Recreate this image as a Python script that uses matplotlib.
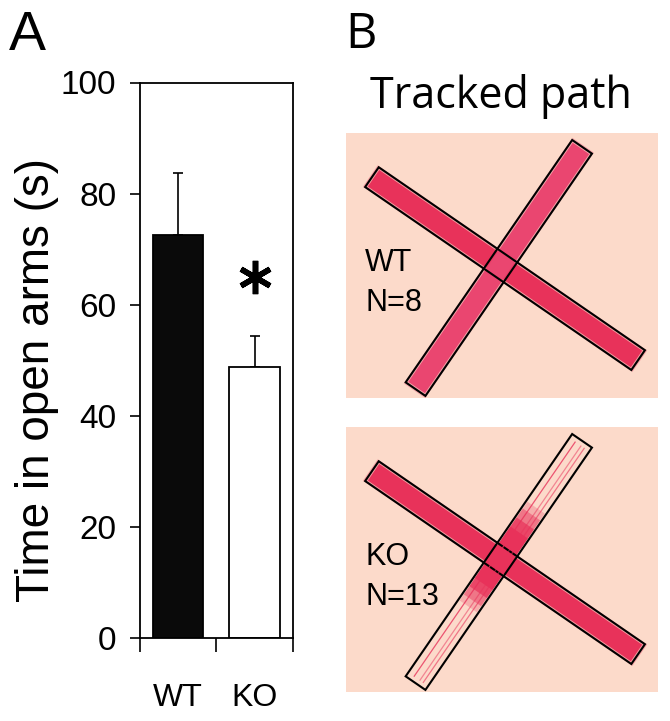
import numpy as np
import matplotlib.pyplot as plt
from matplotlib.patches import Polygon

# panel A data
groups = ["WT", "KO"]
means = [72.6, 48.9]
sem = [11.1, 5.5]
n_mice = [8, 13]
star_y = 65

# panel B: how much of each arm (from centre) the tracked path covers
# order: NW, SE, NE, SW
arm_cover = {"WT": [1.0, 1.0, 1.0, 1.0],
             "KO": [1.0, 1.0, 0.38, 0.33]}

W, H = 670, 721
fig = plt.figure(figsize=(W / 100, H / 100), dpi=100)
plt.rcParams['font.family'] = ['Liberation Sans', 'DejaVu Sans']


def fx(x):
    return x / W


def fy(y):
    return 1 - y / H


# ---------------- panel A ----------------
ax = fig.add_axes([fx(140), fy(638.3), fx(152.7), (638.3 - 82.5) / H])
x = np.arange(len(groups))
ax.bar(x, means, width=0.66, color=["#0a0a0a", "white"],
       edgecolor="black", linewidth=1.3, zorder=2)
ax.errorbar(x, means, yerr=[[0, 0], sem], fmt="none", ecolor="black",
            elinewidth=1.2, capsize=3.5, capthick=1.2, zorder=1)
ax.plot([1], [star_y], marker=(6, 2, 0), markersize=24, mew=4,
        color="black", linestyle="none")

ax.set_xlim(-0.5, 1.5)
ax.set_ylim(0, 100)
ax.set_yticks([0, 20, 40, 60, 80, 100])
ax.tick_params(axis="y", direction="out", length=7, width=1.2,
               labelsize=24, pad=10)
ax.set_xticks([-0.5, 0.5, 1.5])
ax.set_xticklabels([])
ax.tick_params(axis="x", which="major", direction="out", length=10, width=1.2)
ax.set_xticks(x, minor=True)
ax.set_xticklabels(groups, minor=True)
ax.tick_params(axis="x", which="minor", length=0, labelsize=23, pad=32)
for s in ax.spines.values():
    s.set_linewidth(1.3)

fig.text(fx(37), fy(380), "Time in open arms (s)", rotation=90,
         ha="center", va="center", fontsize=33)
fig.text(fx(9), fy(50), "A", fontsize=40, ha="left", va="baseline")

# ---------------- panel B ----------------
fig.text(fx(345), fy(48), "B", fontsize=35, family=["Open Sans"],
         ha="left", va="baseline")
fig.text(fx(370), fy(108), "Tracked path", fontsize=31,
         family=["Open Sans"], ha="left", va="baseline")

peach = "#FCDACA"
pink = "#E8325A"
pink2 = "#EA4670"

theta = np.deg2rad(34.5)
u1 = np.array([np.cos(theta), np.sin(theta)])      # towards SE
u2 = np.array([np.sin(theta), -np.cos(theta)])     # towards NE
arm_w = 24
len_nw, len_se, len_ne, len_sw = 156, 167, 144, 150
centre = np.array([154.5, 132.5])


def arm(u, s0, s1, w):
    nrm = np.array([-u[1], u[0]])
    return np.array([centre + s0 * u + w / 2 * nrm,
                     centre + s1 * u + w / 2 * nrm,
                     centre + s1 * u - w / 2 * nrm,
                     centre + s0 * u - w / 2 * nrm])


def fill_arm(axb, u, l0, l1, c0, c1, col):
    if c0 == 1.0 and c1 == 1.0:
        axb.add_patch(Polygon(arm(u, -l0 - 2, l1 + 2, arm_w + 2),
                              closed=True, fc=col, ec="none", alpha=0.35))
        axb.add_patch(Polygon(arm(u, -l0 + 2, l1 - 2, arm_w - 4),
                              closed=True, fc=col, ec="none"))
    else:
        # dense near centre, fading out along the arm
        for k, a in [(1.15, 0.25), (1.0, 0.45), (0.8, 0.7), (0.6, 1.0)]:
            axb.add_patch(Polygon(arm(u, -l0 * c0 * k, l1 * c1 * k, arm_w - 3),
                                  closed=True, fc=col, ec="none", alpha=a))
        nrm = np.array([-u[1], u[0]])
        for off, a in [(-5, 0.8), (2, 0.5), (6, 0.6)]:
            p = np.array([centre - l0 * u + off * nrm + 5 * u,
                          centre + l1 * u + off * nrm - 5 * u])
            axb.plot(p[:, 0], p[:, 1], color=col, lw=0.9, alpha=a)


for i, (g, top) in enumerate(zip(groups, [133, 427])):
    axb = fig.add_axes([fx(346), fy(top + 265), fx(312), 265 / H])
    axb.set_xlim(0, 312)
    axb.set_ylim(265, 0)
    axb.set_facecolor(peach)
    axb.set_xticks([])
    axb.set_yticks([])
    for s in axb.spines.values():
        s.set_visible(False)

    c_nw, c_se, c_ne, c_sw = arm_cover[g]
    fill_arm(axb, u1, len_nw, len_se, c_nw, c_se, pink)
    fill_arm(axb, u2, len_sw, len_ne, c_sw, c_ne,
             pink2 if c_ne == 1.0 else pink)

    # maze outline
    for poly in [arm(u1, -len_nw, len_se, arm_w), arm(u2, -len_sw, len_ne, arm_w)]:
        axb.add_patch(Polygon(poly, closed=True, fc="none", ec="black", lw=1.5))

    axb.text(19, 138, g, fontsize=22, ha="left", va="baseline")
    axb.text(19, 178, "N=" + str(n_mice[i]), fontsize=22, ha="left", va="baseline")

plt.savefig("out.png", dpi=100)
